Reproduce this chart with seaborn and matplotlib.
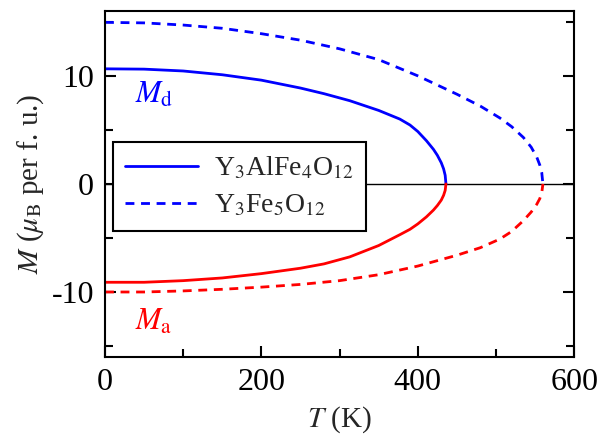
import matplotlib
matplotlib.use("Agg")
import matplotlib.pyplot as plt
import seaborn as sns
import pandas as pd
from matplotlib.ticker import FixedLocator

sns.set_theme(style="ticks")
plt.rcParams['font.family'] = ['Liberation Serif', 'DejaVu Serif']
plt.rcParams['mathtext.fontset'] = 'stix'

# Y3AlFe4O12 (solid)
T_al = [0, 50, 100, 150, 200, 250, 280, 313, 350, 377, 390, 400, 411, 420, 425, 430, 433, 435, 436]
Md_al = [10.65, 10.62, 10.45, 10.1, 9.6, 8.87, 8.35, 7.7, 6.8, 6.0, 5.45, 4.85, 4.0, 3.2, 2.65, 1.96, 1.39, 0.8, 0]
Ma_al = [-9.1, -9.1, -8.95, -8.7, -8.3, -7.8, -7.4, -6.75, -5.7, -4.7, -4.2, -3.7, -3.05, -2.42, -2.0, -1.5, -1.05, -0.6, 0]

# Y3Fe5O12 (dashed)
T_fe = [0, 50, 100, 150, 200, 250, 300, 350, 400, 450, 480, 505, 520, 535, 545, 552, 556, 558.5, 560]
Md_fe = [14.95, 14.9, 14.7, 14.4, 13.9, 13.3, 12.5, 11.5, 10.0, 8.3, 7.2, 6.1, 5.3, 4.3, 3.4, 2.5, 1.75, 1.05, 0]
Ma_fe = [-10.0, -10.0, -9.9, -9.75, -9.55, -9.3, -8.95, -8.4, -7.6, -6.6, -5.9, -5.1, -4.4, -3.4, -2.6, -1.9, -1.36, -0.83, 0]

zero_T = [0, 600]
zero_M = [0, 0]

x_ticks = [0, 200, 400, 600]
y_ticks = [-10, 0, 10]

label_al = r"Y$_3$AlFe$_4$O$_{12}$"
label_fe = r"Y$_3$Fe$_5$O$_{12}$"

fig = plt.figure(figsize=(6, 4.4), dpi=100)
ax = fig.add_axes([0.175, 0.189, 0.782, 0.786])

df_zero = pd.DataFrame({"T": zero_T, "M": zero_M})
sns.lineplot(data=df_zero, x="T", y="M", color="black", lw=1.0, ax=ax, legend=False)

df_al = pd.DataFrame({"T": T_al, "Md": Md_al, "Ma": Ma_al})
df_fe = pd.DataFrame({"T": T_fe, "Md": Md_fe, "Ma": Ma_fe})

dash = (0, (3.2, 2.4))
sns.lineplot(data=df_al, x="T", y="Md", color="#0000ff", lw=2.0, ax=ax, label=label_al, sort=False)
sns.lineplot(data=df_fe, x="T", y="Md", color="#0000ff", lw=2.0, ax=ax, label=label_fe, linestyle=dash, sort=False)
sns.lineplot(data=df_al, x="T", y="Ma", color="#ff0000", lw=2.0, ax=ax, legend=False, sort=False)
sns.lineplot(data=df_fe, x="T", y="Ma", color="#ff0000", lw=2.0, ax=ax, legend=False, linestyle=dash, sort=False)

ax.set_xlim(0, 600)
ax.set_ylim(-16, 16)
ax.xaxis.set_major_locator(FixedLocator(x_ticks))
ax.xaxis.set_minor_locator(FixedLocator([100, 300, 500]))
ax.yaxis.set_major_locator(FixedLocator(y_ticks))
ax.yaxis.set_minor_locator(FixedLocator([-15, -5, 5, 15]))
ax.set_xticklabels([str(v) for v in x_ticks])
ax.set_yticklabels([str(v) for v in y_ticks])
ax.tick_params(which='both', direction='in', right=True, top=False, width=1.5, labelsize=23, colors='black')
ax.tick_params(which='major', length=8, pad=8)
ax.tick_params(which='minor', length=6)
for s in ax.spines.values():
    s.set_linewidth(1.5)
    s.set_color('black')

ax.set_xlabel(r"$T$ (K)", fontsize=21, labelpad=5)
ax.set_ylabel(r"$M$ ($\mu_\mathrm{B}$ per f. u.)", fontsize=21, labelpad=4)

ax.text(38, 8.2, r"$M_\mathrm{d}$", color="#0000ff", fontsize=22, ha='left', va='center')
ax.text(38, -12.8, r"$M_\mathrm{a}$", color="#ff0000", fontsize=22, ha='left', va='center')

leg = ax.legend(loc='upper left', bbox_to_anchor=(0.017, 0.62), fontsize=20, frameon=True,
                fancybox=False, edgecolor='black', handlelength=2.6, borderpad=0.45,
                labelspacing=0.4, handletextpad=0.6, borderaxespad=0)
leg.get_frame().set_linewidth(1.5)
leg.get_frame().set_alpha(1)

fig.savefig("out.png", dpi=100)
